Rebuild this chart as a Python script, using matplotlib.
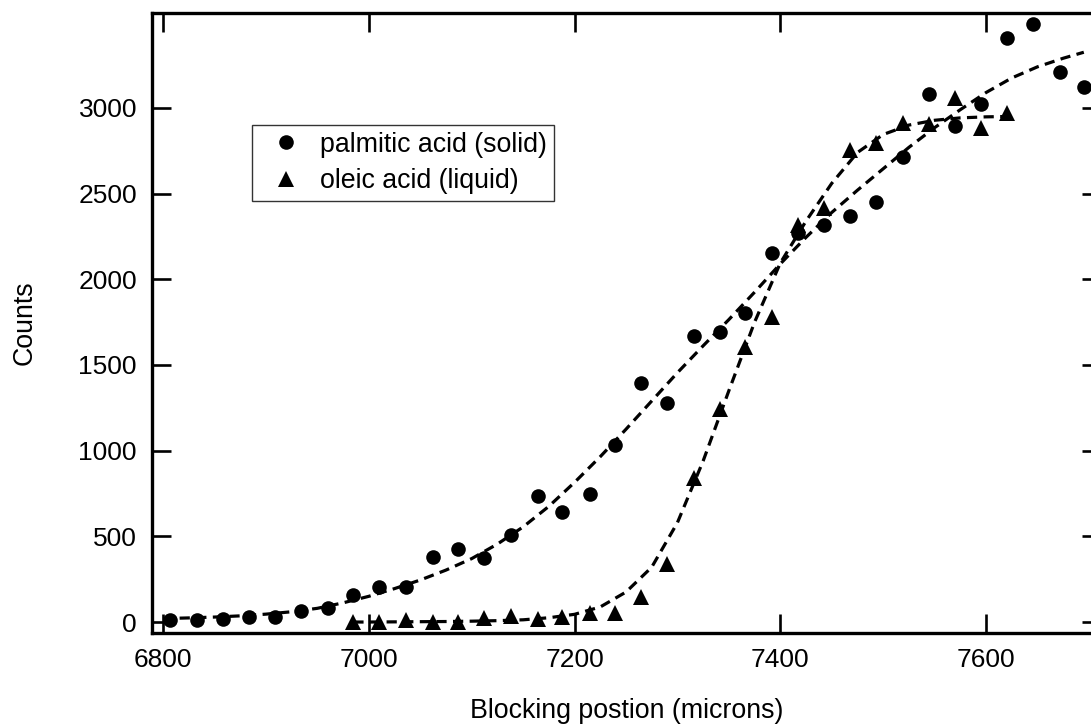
import matplotlib
matplotlib.use("Agg")
import matplotlib.pyplot as plt

plt.rcParams['font.family'] = ['Liberation Sans', 'DejaVu Sans']

# ---- data ----
palm_x = [6807, 6833, 6858, 6884, 6909, 6934, 6960, 6985, 7010, 7036, 7062, 7087,
          7112, 7138, 7164, 7188, 7215, 7239, 7265, 7290, 7316, 7341, 7366, 7392,
          7417, 7442, 7468, 7493, 7519, 7545, 7570, 7595, 7620, 7646, 7672, 7695]
palm_y = [10, 12, 17, 30, 30, 66, 82, 158, 204, 204, 380, 424, 374, 505, 735, 642,
          747, 1035, 1395, 1280, 1670, 1693, 1804, 2154, 2270, 2318, 2367, 2452,
          2715, 3082, 2896, 3024, 3409, 3491, 3211, 3123]

oleic_x = [6985, 7010, 7036, 7062, 7087, 7112, 7138, 7164, 7188, 7215, 7239, 7265,
           7290, 7316, 7341, 7366, 7392, 7417, 7442, 7468, 7493, 7519, 7545, 7570,
           7595, 7620]
oleic_y = [0, 0, 14, 0, 0, 22, 35, 16, 32, 50, 52, 146, 339, 841, 1243, 1605, 1781,
           2318, 2417, 2755, 2796, 2913, 2907, 3059, 2884, 2971]

# fitted curves
palm_fit_x = [6800, 6825, 6850, 6875, 6900, 6925, 6950, 6975, 7000, 7025, 7050, 7075,
              7100, 7125, 7150, 7175, 7200, 7225, 7250, 7275, 7300, 7325, 7350, 7375,
              7400, 7425, 7450, 7475, 7500, 7525, 7550, 7575, 7600, 7625, 7650, 7675, 7695]
palm_fit_y = [20, 24, 29, 36, 46, 60, 80, 112, 150, 195, 245, 303, 370, 455, 555, 675,
              815, 965, 1125, 1290, 1455, 1612, 1765, 1925, 2090, 2245, 2390, 2520,
              2645, 2770, 2885, 2990, 3090, 3175, 3240, 3290, 3325]

oleic_fit_x = [6985, 7000, 7025, 7050, 7075, 7100, 7125, 7150, 7175, 7200, 7225, 7250,
               7275, 7300, 7325, 7350, 7375, 7400, 7425, 7450, 7475, 7500, 7525, 7550,
               7575, 7600, 7620]
oleic_fit_y = [0, 0, 1, 2, 3, 5, 8, 13, 25, 45, 88, 175, 320, 580, 940, 1350, 1750,
               2095, 2340, 2560, 2740, 2845, 2900, 2928, 2942, 2948, 2950]

x_ticks = [6800, 7000, 7200, 7400, 7600]
y_ticks = [0, 500, 1000, 1500, 2000, 2500, 3000]

W, H = 1091, 728
fig = plt.figure(figsize=(W / 100, H / 100), dpi=100)
left, right, top, bottom = 152, 1101, 13, 633
ax = fig.add_axes([left / W, 1 - bottom / H, (right - left) / W, (bottom - top) / H])

dash = dict(color='black', lw=2.3, linestyle=(0, (3.2, 2.0)))
ax.plot(palm_fit_x, palm_fit_y, **dash)
ax.plot(oleic_fit_x, oleic_fit_y, **dash)
ax.plot(palm_x, palm_y, 'o', color='black', ms=10.5, mew=0, label='palmitic acid (solid)')
ax.plot(oleic_x, oleic_y, '^', color='black', ms=11, mew=0, label='oleic acid (liquid)')

ax.set_xlim(6789.3, 7711.7)
ax.set_ylim(-64, 3554)
ax.set_xticks(x_ticks)
ax.set_yticks(y_ticks)
ax.tick_params(axis='both', which='major', direction='in', length=13.7, width=1.9,
               labelsize=19, top=True, right=True)
ax.tick_params(axis='x', pad=11)
ax.tick_params(axis='y', pad=10.8)
for s in ax.spines.values():
    s.set_linewidth(2.4)

ax.set_xlabel('Blocking postion (microns)', fontsize=19.3)
ax.xaxis.set_label_coords(0.5, -0.105)
ax.set_ylabel('Counts', fontsize=19.3)
ax.yaxis.set_label_coords(-0.120, 0.5)

leg = ax.legend(loc='upper left', bbox_to_anchor=(252 / W, 1 - 125 / H),
                bbox_transform=fig.transFigure, fontsize=19.3, frameon=True,
                fancybox=False, numpoints=1, handlelength=2.0, handletextpad=0.3,
                borderpad=0.25, labelspacing=0.4, borderaxespad=0)
leg.get_frame().set_edgecolor('black')
leg.get_frame().set_linewidth(1.0)

fig.savefig('out.png', dpi=100)
